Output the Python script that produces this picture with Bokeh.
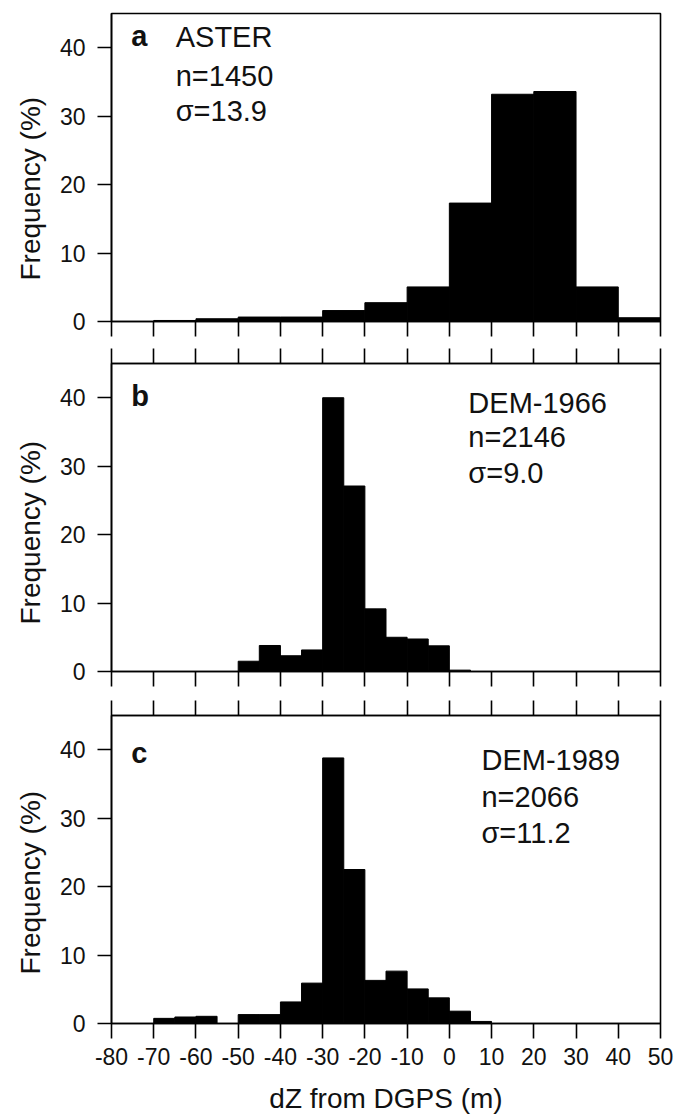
from bokeh.plotting import figure
from bokeh.models import LinearAxis, Label, FixedTicker, Range1d, Title
from bokeh.layouts import column
from bokeh.embed import file_html
from bokeh.resources import INLINE

# ---- data ----
x_ticks = [-80, -70, -60, -50, -40, -30, -20, -10, 0, 10, 20, 30, 40, 50]
y_ticks = [0, 10, 20, 30, 40]

# panel a: ASTER, 10 m bins
a_left = [-80, -70, -60, -50, -40, -30, -20, -10, 0, 10, 20, 30, 40]
a_width = 10
a_freq = [0.0, 0.15, 0.4, 0.65, 0.65, 1.6, 2.75, 5.05, 17.3, 33.2, 33.6, 5.05, 0.55]

# panels b and c: 5 m bins
bc_left = [-80, -75, -70, -65, -60, -55, -50, -45, -40, -35, -30, -25, -20,
           -15, -10, -5, 0, 5, 10, 15, 20, 25, 30, 35, 40, 45]
bc_width = 5
b_freq = [0, 0, 0, 0, 0, 0, 1.5, 3.8, 2.3, 3.15, 40.0, 27.1, 9.15,
          5.0, 4.75, 3.75, 0.2, 0, 0, 0, 0, 0, 0, 0, 0, 0]
c_freq = [0, 0, 0.75, 0.95, 1.05, 0, 1.3, 1.3, 3.15, 5.9, 38.8, 22.5, 6.3,
          7.65, 5.05, 3.75, 1.8, 0.3, 0, 0, 0, 0, 0, 0, 0, 0]

panel_letters = ["a", "b", "c"]
panel_names = ["ASTER", "DEM-1966", "DEM-1989"]
panel_n = ["n=1450", "n=2146", "n=2066"]
panel_sigma = ["σ=13.9", "σ=9.0", "σ=11.2"]
y_title = "Frequency (%)"
x_title = "dZ from DGPS (m)"

FONT = "Liberation Sans"
LW = 1.6
TXT = "#111111"


def style_xaxis(ax, labels):
    ax.ticker = FixedTicker(ticks=x_ticks)
    ax.minor_tick_line_color = None
    ax.major_tick_in = 0
    ax.major_tick_out = 15
    ax.major_tick_line_width = LW
    ax.axis_line_width = LW
    ax.axis_line_color = "black"
    ax.major_tick_line_color = "black"
    if labels:
        ax.major_label_overrides = {t: str(t) for t in x_ticks}
        ax.major_label_text_font = FONT
        ax.major_label_text_font_size = "23px"
        ax.major_label_text_color = TXT
        ax.major_label_standoff = 9
    else:
        ax.major_label_text_color = None
        ax.major_label_text_font_size = "1px"
        ax.major_label_standoff = 0


def make_fig(height, top, bottom, top_axis, xlabels, ylab_offset):
    p = figure(width=680, height=height, x_range=Range1d(-80, 50), y_range=Range1d(0, 45),
               output_backend="svg", toolbar_location=None,
               min_border_left=111, min_border_right=20,
               min_border_top=top, min_border_bottom=bottom)
    p.grid.visible = False
    p.outline_line_color = "black"
    p.outline_line_width = LW
    p.outline_line_alpha = 1.0
    xa = p.below[0]
    style_xaxis(xa, xlabels)
    if xlabels:
        xa.axis_label = x_title
        xa.axis_label_text_font = FONT
        xa.axis_label_text_font_size = "28px"
        xa.axis_label_text_font_style = "normal"
        xa.axis_label_text_color = TXT
        xa.axis_label_standoff = 15
    if top_axis:
        ta = LinearAxis()
        style_xaxis(ta, False)
        p.add_layout(ta, "above")
    ya = p.left[0]
    ya.ticker = FixedTicker(ticks=y_ticks)
    ya.minor_tick_line_color = None
    ya.major_tick_in = 0
    ya.major_tick_out = 14
    ya.major_tick_line_width = LW
    ya.axis_line_width = LW
    ya.axis_line_color = "black"
    ya.major_label_text_font = FONT
    ya.major_label_text_font_size = "23px"
    ya.major_label_text_color = TXT
    ya.major_label_standoff = 12
    # y title as a side title, starting a little above the frame bottom
    p.add_layout(Title(text=y_title, align="left", offset=ylab_offset, standoff=21,
                       text_font=FONT, text_font_size="28px", text_font_style="normal",
                       text_color=TXT), "left")
    return p


def add_text(p, x, y, txt, bold=False):
    p.add_layout(Label(x=x, y=y, text=txt, text_font=FONT, text_font_size="29px",
                       text_font_style="bold" if bold else "normal",
                       text_color=TXT, text_baseline="alphabetic", text_align="left"))


fa = make_fig(342, 13, 21, False, False, 41)
fb = make_fig(351, 21, 22, True, False, 47)
fc = make_fig(426, 22, 96, True, True, 49)

fa.quad(left=a_left, right=[l + a_width for l in a_left], bottom=0, top=a_freq,
        fill_color="black", line_color="black", line_width=1)
fb.quad(left=bc_left, right=[l + bc_width for l in bc_left], bottom=0, top=b_freq,
        fill_color="black", line_color="black", line_width=1)
fc.quad(left=bc_left, right=[l + bc_width for l in bc_left], bottom=0, top=c_freq,
        fill_color="black", line_color="black", line_width=1)

dy = 1.5
# panel a annotations
add_text(fa, -75.3, 40.2 + dy, panel_letters[0], bold=True)
add_text(fa, -64.8, 40.0 + dy, panel_names[0])
add_text(fa, -64.8, 34.4 + dy, panel_n[0])
add_text(fa, -64.8, 29.2 + dy, panel_sigma[0])
# panel b
add_text(fb, -75.3, 38.7 + dy, panel_letters[1], bold=True)
add_text(fb, 4.5, 37.8 + dy, panel_names[1])
add_text(fb, 4.5, 32.8 + dy, panel_n[1])
add_text(fb, 4.5, 27.5 + dy, panel_sigma[1])
# panel c
add_text(fc, -75.3, 38.0 + dy, panel_letters[2], bold=True)
add_text(fc, 7.6, 37.0 + dy, panel_names[2])
add_text(fc, 7.6, 31.6 + dy, panel_n[2])
add_text(fc, 7.6, 26.3 + dy, panel_sigma[2])

layout = column(fa, fb, fc, spacing=0)
open("out.html", "w").write(file_html(layout, INLINE))
